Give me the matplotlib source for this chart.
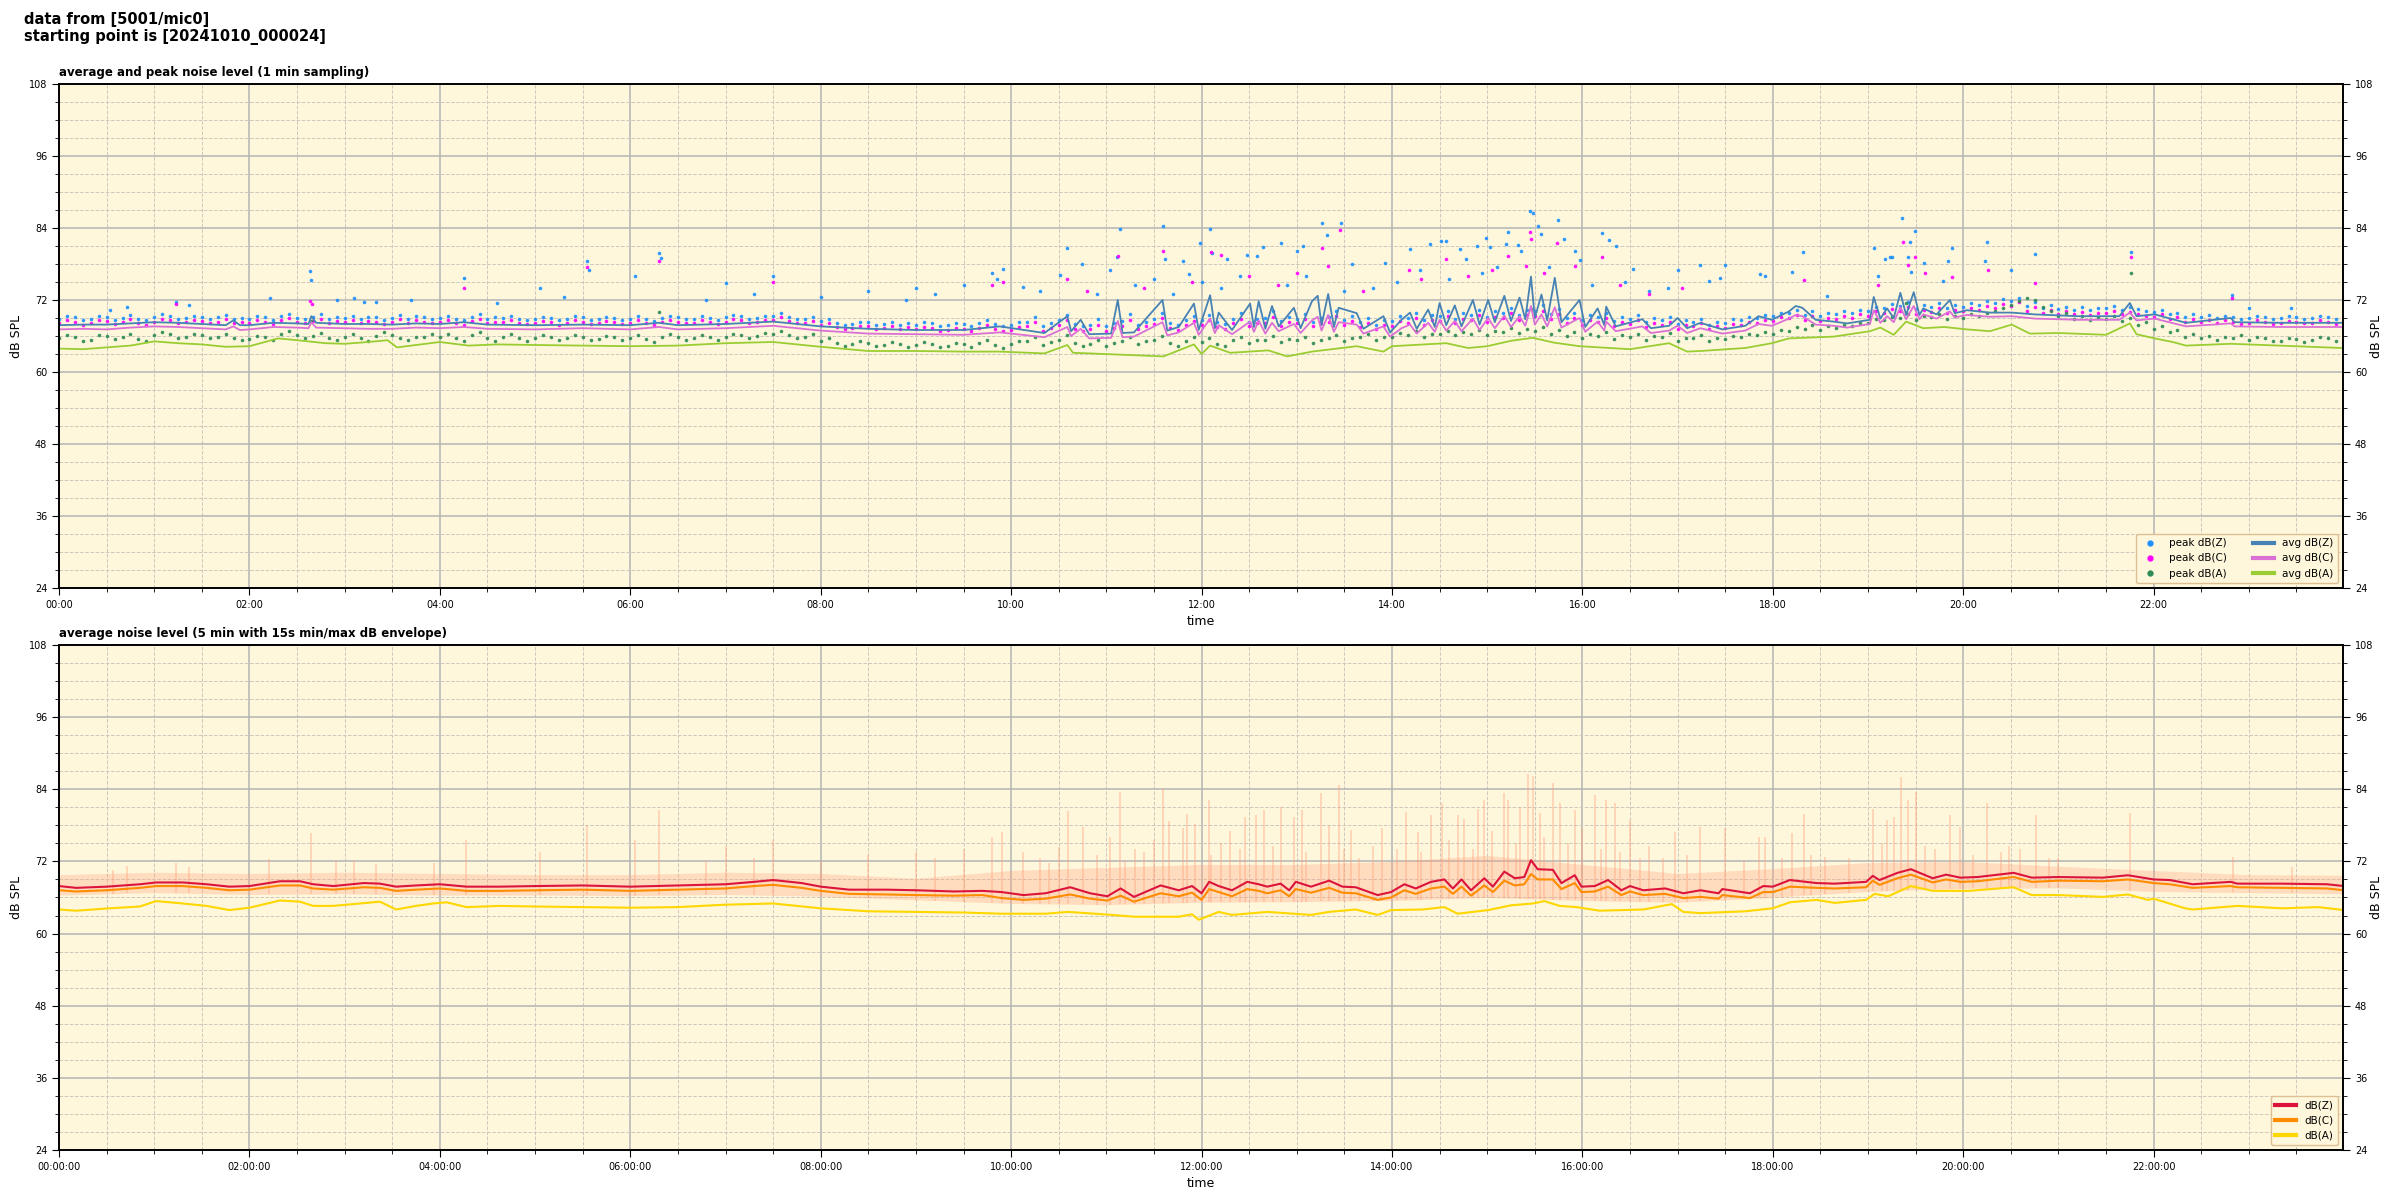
import numpy as np
import matplotlib
matplotlib.use("Agg")
import matplotlib.pyplot as plt
import matplotlib.dates as mdates
from matplotlib.ticker import MultipleLocator

# ---- data (hours since 00:00, dB SPL) ----

# top panel: 1 min averages, key points (hour, avg Z, avg C)
top_avg_zc = [
    (0.00, 67.8, 67.1), (0.25, 67.9, 67.2), (0.50, 67.9, 67.1), (0.75, 68.1, 67.4),
    (1.00, 68.3, 67.6), (1.25, 68.2, 67.5), (1.50, 68.0, 67.3), (1.75, 67.8, 67.1),
    (1.83, 68.6, 67.6), (1.90, 67.8, 67.0), (2.00, 67.8, 67.1), (2.25, 68.2, 67.5),
    (2.50, 68.1, 67.4), (2.62, 68.0, 67.3), (2.65, 69.3, 68.3), (2.70, 68.2, 67.4),
    (3.00, 68.0, 67.3), (3.25, 68.0, 67.2), (3.50, 67.9, 67.2), (3.75, 68.1, 67.4),
    (4.00, 68.0, 67.3), (4.25, 68.3, 67.5), (4.50, 67.9, 67.2), (5.00, 67.8, 67.1),
    (5.50, 67.9, 67.3), (6.00, 67.8, 67.1), (6.30, 68.2, 67.5), (6.50, 67.8, 67.1),
    (7.00, 68.0, 67.3), (7.50, 68.4, 67.7), (7.75, 68.0, 67.3), (8.00, 67.6, 66.9),
    (8.50, 67.2, 66.4), (9.00, 67.0, 66.3), (9.50, 67.0, 66.2), (9.88, 67.6, 66.6),
    (10.35, 66.5, 65.8), (10.59, 69.3, 67.5), (10.63, 66.8, 66.0), (10.73, 68.7, 67.2),
    (10.82, 66.3, 65.6), (11.05, 66.4, 65.7), (11.12, 72.0, 68.5), (11.17, 66.5, 65.8),
    (11.29, 66.6, 65.9), (11.59, 72.0, 68.3), (11.64, 66.9, 66.1), (11.76, 67.5, 66.6),
    (11.92, 71.4, 68.2), (11.97, 67.0, 66.2), (12.09, 72.8, 68.9), (12.14, 67.3, 66.5),
    (12.18, 69.9, 67.8), (12.32, 67.0, 66.3), (12.51, 71.4, 68.4), (12.55, 67.5, 66.7),
    (12.60, 71.8, 68.6), (12.67, 67.2, 66.4), (12.74, 71.0, 68.2), (12.81, 67.6, 66.8),
    (12.97, 70.7, 68.0), (13.04, 67.3, 66.5), (13.16, 71.8, 68.6), (13.22, 72.7, 69.2),
    (13.26, 67.8, 66.9), (13.33, 73.0, 69.5), (13.39, 67.5, 66.7), (13.44, 70.7, 68.3),
    (13.63, 69.8, 67.9), (13.70, 67.2, 66.4), (13.91, 69.3, 67.6), (13.98, 66.6, 65.9),
    (14.10, 68.7, 67.3), (14.19, 69.9, 67.9), (14.26, 67.2, 66.4), (14.38, 70.4, 68.2),
    (14.45, 67.5, 66.7), (14.50, 71.5, 68.7), (14.57, 67.8, 66.9), (14.66, 71.1, 68.5),
    (14.73, 67.6, 66.8), (14.85, 72.0, 68.9), (14.92, 67.9, 67.0), (15.01, 72.0, 69.0),
    (15.08, 68.3, 67.3), (15.18, 72.7, 69.4), (15.25, 68.5, 67.5), (15.34, 72.4, 69.3),
    (15.40, 68.8, 67.7), (15.46, 75.9, 71.0), (15.50, 69.0, 67.9), (15.57, 72.9, 69.6),
    (15.63, 68.6, 67.6), (15.71, 75.7, 70.8), (15.78, 68.3, 67.4), (15.97, 72.0, 69.0),
    (16.03, 67.5, 66.7), (16.16, 70.6, 68.4), (16.23, 67.8, 66.9), (16.25, 70.9, 68.4),
    (16.35, 67.6, 66.8), (16.63, 68.8, 67.6), (16.72, 67.3, 66.5), (16.91, 67.7, 66.9),
    (17.00, 69.0, 67.7), (17.10, 67.3, 66.5), (17.24, 68.2, 67.3), (17.47, 67.1, 66.4),
    (17.71, 67.7, 66.9), (17.85, 69.3, 68.0), (17.99, 68.7, 67.7), (18.17, 70.1, 68.9),
    (18.24, 71.0, 69.5), (18.31, 70.7, 69.3), (18.45, 68.7, 67.9), (18.64, 68.4, 67.7),
    (18.78, 68.1, 67.4), (19.02, 68.7, 68.0), (19.06, 72.5, 70.3), (19.13, 68.9, 68.2),
    (19.20, 70.6, 69.3), (19.27, 69.0, 68.3), (19.34, 73.2, 70.8), (19.40, 69.5, 68.8),
    (19.48, 73.3, 71.0), (19.54, 69.5, 68.8), (19.58, 70.6, 69.6), (19.72, 69.6, 68.9),
    (19.86, 72.0, 70.1), (19.91, 69.8, 69.1), (20.04, 70.3, 69.5), (20.28, 69.9, 69.2),
    (20.51, 69.9, 69.3), (20.75, 69.6, 68.9), (21.21, 69.3, 68.7), (21.64, 69.3, 68.7),
    (21.75, 71.5, 69.9), (21.82, 69.3, 68.6), (22.01, 69.6, 68.9), (22.34, 68.2, 67.6),
    (22.81, 69.0, 68.1), (22.85, 68.3, 67.6), (23.32, 68.2, 67.5), (23.98, 68.2, 67.5),
]

# top panel: avg dB(A) key points (hour, value)
top_avg_a = [
    (0.00, 63.9), (0.25, 63.8), (0.50, 64.1), (0.75, 64.4), (1.00, 65.1), (1.25, 64.8),
    (1.50, 64.6), (1.75, 64.2), (2.00, 64.3), (2.30, 65.6), (2.50, 65.3), (2.80, 64.8),
    (3.00, 64.7), (3.25, 65.0), (3.45, 65.3), (3.55, 64.1), (3.80, 64.6), (4.00, 65.0),
    (4.30, 64.4), (4.60, 64.6), (5.00, 64.5), (5.50, 64.4), (6.00, 64.3), (6.50, 64.4),
    (7.00, 64.8), (7.50, 65.0), (8.00, 64.2), (8.50, 63.5), (9.00, 63.5), (9.50, 63.4),
    (9.88, 63.4), (10.35, 63.1), (10.59, 64.5), (10.65, 63.2), (10.82, 63.1), (11.29, 62.8),
    (11.60, 62.6), (11.92, 64.6), (12.00, 63.0), (12.09, 64.4), (12.30, 63.2), (12.70, 63.6),
    (12.90, 62.6), (13.16, 63.4), (13.63, 64.3), (13.91, 63.4), (14.00, 64.3), (14.57, 64.8),
    (14.80, 64.0), (15.00, 64.3), (15.25, 65.2), (15.48, 65.7), (15.70, 64.9), (15.97, 64.3),
    (16.50, 63.8), (16.91, 64.8), (17.10, 63.4), (17.24, 63.5), (17.71, 64.0), (17.99, 64.8),
    (18.17, 65.6), (18.64, 65.9), (19.02, 66.8), (19.13, 67.4), (19.27, 66.2), (19.40, 68.4),
    (19.58, 67.3), (19.80, 67.5), (20.04, 67.1), (20.28, 66.8), (20.51, 67.9), (20.70, 66.4),
    (21.00, 66.5), (21.50, 66.2), (21.75, 68.1), (21.82, 66.3), (22.01, 65.6), (22.20, 65.0),
    (22.34, 64.4), (22.81, 64.7), (23.32, 64.4), (23.98, 64.0),
]

# top panel: peak levels, one reading per 5 minutes (one row per hour)
peak_z_rows = [
    [68.9, 69.3, 69.1, 68.6, 68.8, 69.4, 69.2, 68.7, 69.0, 69.5, 68.9, 68.6],
    [69.1, 69.6, 69.3, 68.9, 69.0, 69.4, 69.2, 68.8, 69.1, 69.5, 68.8, 69.0],
    [68.9, 69.3, 69.1, 68.7, 69.3, 69.7, 69.0, 68.8, 69.2, 69.6, 68.9, 69.2],
    [69.0, 69.4, 68.8, 69.2, 69.1, 68.7, 69.0, 69.5, 68.9, 69.3, 69.1, 68.8],
    [69.0, 69.4, 68.9, 68.6, 69.2, 69.6, 68.8, 69.1, 69.0, 69.4, 68.9, 68.7],
    [68.8, 69.2, 69.0, 68.6, 68.9, 69.3, 69.1, 68.7, 68.8, 69.2, 69.0, 68.7],
    [68.9, 69.3, 68.8, 68.5, 69.0, 69.4, 69.1, 68.8, 68.9, 69.3, 69.0, 68.7],
    [69.1, 69.5, 69.3, 68.9, 69.0, 69.4, 69.4, 69.8, 69.2, 68.9, 68.9, 69.2],
    [68.5, 68.9, 68.2, 67.9, 68.0, 68.4, 68.3, 67.8, 68.0, 68.4, 67.9, 68.2],
    [67.9, 68.3, 68.1, 67.7, 67.8, 68.2, 68.0, 67.6, 68.2, 68.6, 68.0, 67.7],
    [67.8, 68.3, 68.4, 69.2, 67.7, 68.1, 68.6, 69.5, 68.0, 67.6, 67.9, 68.8],
    [67.7, 68.2, 68.5, 69.6, 67.9, 68.4, 68.8, 69.9, 68.2, 67.8, 68.6, 69.4],
    [68.7, 69.5, 68.3, 68.0, 68.9, 69.8, 68.4, 68.9, 69.0, 70.1, 68.5, 69.2],
    [68.9, 69.7, 68.4, 69.0, 69.2, 70.2, 68.6, 69.3, 68.3, 69.0, 67.9, 68.6],
    [68.5, 69.4, 69.0, 69.9, 68.7, 69.5, 69.3, 70.2, 68.9, 69.8, 69.5, 70.4],
    [69.2, 70.1, 69.8, 70.7, 69.5, 70.4, 70.2, 71.1, 69.6, 70.5, 69.0, 69.8],
    [68.7, 69.5, 69.1, 69.8, 68.5, 69.2, 68.8, 69.5, 68.3, 69.0, 68.6, 69.2],
    [68.0, 68.6, 68.4, 68.9, 67.9, 68.4, 68.2, 68.8, 68.6, 69.2, 69.0, 69.5],
    [69.3, 69.9, 69.8, 70.3, 69.5, 70.1, 69.3, 69.8, 69.6, 70.2, 69.8, 70.4],
    [70.2, 70.9, 70.6, 71.3, 71.0, 71.7, 70.5, 71.1, 70.8, 71.5, 70.6, 71.2],
    [70.9, 71.5, 71.2, 71.8, 71.5, 72.2, 71.8, 72.4, 71.0, 71.6, 70.6, 71.1],
    [70.5, 70.9, 70.4, 70.8, 70.3, 70.7, 70.6, 71.0, 70.4, 70.8, 70.5, 70.1],
    [70.0, 70.4, 69.6, 69.9, 69.2, 69.6, 69.1, 69.5, 69.0, 69.4, 69.2, 68.8],
    [69.0, 69.4, 69.1, 68.8, 69.0, 69.3, 69.2, 68.9, 69.0, 69.4, 69.1, 68.8],
]
peak_c_rows = [
    [68.2, 68.6, 68.4, 67.9, 68.1, 68.7, 68.5, 68.0, 68.3, 68.8, 68.2, 67.9],
    [68.4, 68.9, 68.6, 68.2, 68.3, 68.7, 68.5, 68.1, 68.4, 68.8, 68.1, 68.3],
    [68.2, 68.6, 68.4, 68.0, 68.6, 69.0, 68.3, 68.1, 68.5, 68.9, 68.2, 68.5],
    [68.3, 68.7, 68.1, 68.5, 68.4, 68.0, 68.3, 68.8, 68.2, 68.6, 68.4, 68.1],
    [68.3, 68.7, 68.2, 67.9, 68.5, 68.9, 68.1, 68.4, 68.3, 68.7, 68.2, 68.0],
    [68.1, 68.5, 68.3, 67.9, 68.2, 68.6, 68.4, 68.0, 68.1, 68.5, 68.3, 68.0],
    [68.2, 68.6, 68.1, 67.8, 68.3, 68.7, 68.4, 68.1, 68.2, 68.6, 68.3, 68.0],
    [68.4, 68.8, 68.6, 68.2, 68.3, 68.7, 68.7, 69.1, 68.5, 68.2, 68.2, 68.5],
    [67.8, 68.2, 67.5, 67.2, 67.3, 67.7, 67.6, 67.1, 67.3, 67.7, 67.2, 67.5],
    [67.1, 67.5, 67.3, 66.9, 67.0, 67.4, 67.2, 66.8, 67.4, 67.8, 67.2, 66.9],
    [67.0, 67.5, 67.6, 68.3, 66.9, 67.3, 67.8, 68.6, 67.2, 66.8, 67.1, 67.9],
    [66.9, 67.4, 67.7, 68.7, 67.1, 67.6, 68.0, 69.0, 67.4, 67.0, 67.8, 68.5],
    [67.9, 68.6, 67.5, 67.2, 68.1, 68.9, 67.6, 68.1, 68.2, 69.1, 67.7, 68.4],
    [68.1, 68.8, 67.6, 68.2, 68.4, 69.3, 67.8, 68.5, 67.5, 68.2, 67.1, 67.8],
    [67.7, 68.5, 68.2, 69.0, 67.9, 68.6, 68.5, 69.3, 68.1, 68.9, 68.7, 69.5],
    [68.4, 69.2, 69.0, 69.8, 68.7, 69.5, 69.4, 70.2, 68.8, 69.6, 68.2, 69.0],
    [67.9, 68.7, 68.3, 69.0, 67.7, 68.4, 68.0, 68.7, 67.5, 68.2, 67.8, 68.4],
    [67.2, 67.8, 67.6, 68.1, 67.1, 67.6, 67.4, 68.0, 67.8, 68.4, 68.2, 68.7],
    [68.5, 69.1, 69.0, 69.5, 68.7, 69.3, 68.5, 69.0, 68.8, 69.4, 69.0, 69.6],
    [69.4, 70.1, 69.8, 70.5, 70.2, 70.9, 69.7, 70.3, 70.0, 70.7, 69.8, 70.4],
    [70.1, 70.7, 70.4, 71.0, 70.7, 71.4, 71.0, 71.6, 70.2, 70.8, 69.8, 70.3],
    [69.7, 70.1, 69.6, 70.0, 69.5, 69.9, 69.8, 70.2, 69.6, 70.0, 69.7, 69.3],
    [69.2, 69.6, 68.8, 69.1, 68.4, 68.8, 68.3, 68.7, 68.2, 68.6, 68.4, 68.0],
    [68.2, 68.6, 68.3, 68.0, 68.2, 68.5, 68.4, 68.1, 68.2, 68.6, 68.3, 68.0],
]
peak_a_rows = [
    [65.6, 66.2, 65.9, 65.2, 65.4, 66.1, 66.0, 65.5, 65.8, 66.3, 65.5, 65.1],
    [66.1, 66.6, 66.3, 65.7, 65.9, 66.4, 66.2, 65.6, 65.8, 66.3, 65.6, 65.3],
    [65.5, 66.0, 65.9, 65.4, 66.4, 66.9, 66.1, 65.6, 66.0, 66.5, 65.7, 65.3],
    [65.8, 66.3, 65.6, 65.1, 66.0, 66.6, 66.2, 65.6, 65.4, 65.9, 65.9, 66.4],
    [65.9, 66.4, 65.7, 65.2, 66.1, 66.6, 65.6, 65.1, 65.8, 66.3, 65.7, 65.2],
    [65.6, 66.1, 65.8, 65.3, 65.7, 66.2, 65.9, 65.4, 65.5, 66.0, 65.8, 65.3],
    [65.7, 66.2, 65.5, 65.0, 65.8, 66.3, 65.9, 65.4, 65.6, 66.1, 65.8, 65.3],
    [65.9, 66.4, 66.2, 65.7, 66.0, 66.5, 66.4, 66.9, 66.1, 65.6, 65.8, 66.3],
    [65.2, 65.7, 64.8, 64.3, 64.6, 65.1, 64.9, 64.4, 64.5, 65.0, 64.6, 64.1],
    [64.5, 65.0, 64.7, 64.2, 64.4, 64.9, 64.6, 64.1, 64.8, 65.3, 64.5, 64.0],
    [64.6, 65.1, 65.2, 65.9, 64.5, 65.0, 65.4, 66.1, 64.8, 64.3, 64.6, 65.3],
    [64.4, 64.9, 65.1, 65.8, 64.6, 65.1, 65.3, 66.0, 64.9, 64.4, 65.2, 65.8],
    [65.0, 65.6, 64.7, 64.3, 65.3, 65.9, 64.9, 65.4, 65.4, 66.0, 65.0, 65.5],
    [65.3, 65.9, 64.9, 65.4, 65.6, 66.2, 65.2, 65.7, 65.8, 66.4, 65.4, 65.9],
    [65.9, 66.5, 66.2, 66.8, 65.8, 66.4, 66.3, 66.9, 66.1, 66.7, 66.4, 67.0],
    [66.2, 66.8, 66.7, 67.3, 66.5, 67.1, 66.9, 67.5, 66.4, 67.0, 66.0, 66.6],
    [65.7, 66.3, 66.0, 66.6, 65.5, 66.1, 65.8, 66.4, 65.4, 66.0, 65.9, 66.5],
    [65.2, 65.7, 65.6, 66.1, 65.1, 65.6, 65.5, 66.0, 65.8, 66.3, 66.2, 66.7],
    [66.4, 67.0, 66.9, 67.5, 67.2, 67.8, 67.0, 67.6, 67.3, 67.9, 67.6, 68.2],
    [68.2, 68.8, 68.6, 69.2, 69.0, 69.6, 68.7, 69.3, 69.1, 69.7, 68.8, 69.4],
    [69.0, 69.6, 69.3, 69.9, 70.1, 70.7, 71.2, 71.9, 72.4, 72.0, 70.8, 70.2],
    [69.4, 69.9, 68.9, 69.4, 68.6, 69.1, 68.8, 69.3, 68.5, 69.0, 67.9, 68.4],
    [67.2, 67.6, 66.6, 67.0, 65.9, 66.3, 65.6, 66.0, 65.4, 65.8, 65.7, 66.1],
    [65.3, 65.8, 65.6, 65.1, 65.2, 65.7, 65.5, 65.0, 65.3, 65.8, 65.6, 65.1],
]

# isolated high peak readings (hour, dB)
peak_z_extra = [
    (0.53, 70.3), (0.71, 70.9), (1.23, 71.6), (1.37, 71.2), (2.22, 72.3), (2.64, 76.8),
    (2.65, 75.3), (2.92, 72.0), (3.10, 72.3), (3.20, 71.6), (3.33, 71.6), (3.70, 72.0),
    (4.25, 75.6), (4.60, 71.5), (5.05, 74.0), (5.30, 72.5), (5.55, 78.5), (5.57, 77.0),
    (6.05, 76.0), (6.30, 79.8), (6.32, 79.0), (6.80, 72.0), (7.00, 74.8), (7.30, 73.0),
    (7.50, 76.0), (8.00, 72.5), (8.50, 73.5), (8.90, 72.0), (9.00, 74.0), (9.20, 73.0),
    (9.50, 74.5), (9.80, 76.5), (9.85, 75.5), (9.91, 77.1), (10.12, 74.2), (10.30, 73.5),
    (10.51, 76.2), (10.59, 80.6), (10.74, 78.0), (10.90, 73.0), (11.04, 77.0), (11.11, 79.1),
    (11.14, 83.8), (11.30, 74.5), (11.50, 75.5), (11.60, 84.3), (11.62, 78.9), (11.70, 73.0),
    (11.80, 78.5), (11.87, 76.3), (11.98, 81.5), (12.00, 75.0), (12.09, 83.8), (12.11, 79.9),
    (12.20, 74.0), (12.27, 78.9), (12.40, 76.0), (12.48, 79.5), (12.58, 79.3), (12.65, 80.8),
    (12.83, 81.5), (12.90, 74.5), (13.00, 80.2), (13.07, 81.0), (13.10, 76.0), (13.26, 84.9),
    (13.32, 82.8), (13.46, 84.8), (13.50, 73.5), (13.58, 78.0), (13.80, 74.0), (13.93, 78.1),
    (14.05, 75.0), (14.19, 80.5), (14.29, 77.0), (14.40, 81.3), (14.52, 81.9), (14.57, 81.9),
    (14.60, 75.5), (14.71, 80.5), (14.78, 78.9), (14.89, 81.0), (14.95, 76.5), (14.99, 82.3),
    (15.03, 80.8), (15.10, 77.5), (15.20, 81.3), (15.22, 83.4), (15.32, 81.2), (15.36, 80.2),
    (15.45, 86.9), (15.48, 86.5), (15.53, 84.4), (15.57, 83.0), (15.65, 77.5), (15.74, 85.4),
    (15.81, 82.2), (15.92, 80.2), (15.97, 78.7), (16.10, 74.5), (16.21, 83.2), (16.28, 82.0),
    (16.35, 81.0), (16.45, 75.0), (16.53, 77.1), (16.70, 73.5), (16.90, 74.0), (17.00, 77.0),
    (17.24, 77.9), (17.33, 75.2), (17.45, 75.7), (17.50, 77.9), (17.87, 76.3), (17.92, 76.0),
    (18.20, 76.6), (18.32, 80.0), (18.57, 72.6), (19.06, 80.7), (19.11, 76.0), (19.18, 78.8),
    (19.23, 79.1), (19.25, 79.2), (19.36, 85.7), (19.42, 79.1), (19.44, 81.6), (19.45, 76.7),
    (19.49, 83.5), (19.59, 78.2), (19.79, 75.2), (19.84, 78.5), (19.88, 80.6), (20.23, 78.5),
    (20.25, 81.6), (20.50, 77.0), (20.75, 79.6), (21.76, 80.0), (22.82, 72.8), (23.00, 70.7),
    (23.44, 70.7),
]
peak_c_extra = [
    (1.23, 71.3), (2.64, 71.8), (2.66, 71.4), (4.25, 74.0), (5.55, 77.5), (6.30, 78.5),
    (7.50, 75.0), (9.80, 74.5), (9.91, 75.0), (10.59, 75.5), (10.80, 73.5), (11.12, 79.3),
    (11.40, 74.0), (11.59, 80.2), (11.90, 75.0), (12.10, 80.0), (12.20, 79.5), (12.50, 76.0),
    (12.80, 74.5), (13.00, 76.5), (13.26, 80.6), (13.33, 77.6), (13.45, 83.7), (13.70, 73.5),
    (14.18, 77.0), (14.30, 75.5), (14.57, 78.8), (14.80, 76.0), (15.05, 77.0), (15.22, 79.4),
    (15.41, 77.7), (15.45, 83.3), (15.46, 82.2), (15.60, 76.5), (15.73, 81.5), (15.92, 77.6),
    (16.21, 79.1), (16.40, 74.5), (16.70, 73.0), (17.05, 74.0), (18.33, 75.3), (19.10, 74.5),
    (19.37, 81.6), (19.42, 77.8), (19.49, 79.1), (19.60, 76.5), (19.88, 75.9), (20.26, 77.0),
    (20.75, 74.9), (21.76, 79.2), (22.82, 72.4),
]
peak_a_extra = [
    (2.65, 68.5), (6.30, 70.0), (15.46, 70.5), (19.40, 71.5), (21.76, 76.5),
]

# bottom panel: 5 min averages (hour, dB(Z), dB(C))
avg5_zc = [
    (0.00, 67.9, 67.2), (0.18, 67.6, 67.0), (0.50, 67.8, 67.2), (0.85, 68.2, 67.6),
    (1.02, 68.5, 67.9), (1.30, 68.5, 67.9), (1.55, 68.2, 67.6), (1.79, 67.8, 67.2),
    (2.00, 67.9, 67.3), (2.32, 68.7, 68.0), (2.53, 68.7, 68.0), (2.67, 68.2, 67.5),
    (2.88, 67.9, 67.3), (3.20, 68.4, 67.7), (3.37, 68.3, 67.6), (3.54, 67.8, 67.1),
    (3.75, 68.0, 67.3), (4.00, 68.2, 67.5), (4.28, 67.8, 67.1), (4.63, 67.8, 67.1),
    (5.00, 67.9, 67.2), (5.50, 68.0, 67.3), (6.00, 67.8, 67.1), (6.50, 68.0, 67.3),
    (7.00, 68.2, 67.5), (7.30, 68.6, 67.9), (7.50, 68.9, 68.1), (7.80, 68.4, 67.6),
    (8.00, 67.8, 67.1), (8.30, 67.3, 66.6), (8.70, 67.3, 66.5), (9.00, 67.2, 66.4),
    (9.40, 67.0, 66.3), (9.70, 67.1, 66.4), (9.90, 66.9, 65.9), (10.13, 66.4, 65.6),
    (10.36, 66.7, 65.8), (10.62, 67.7, 66.5), (10.83, 66.7, 65.8), (11.01, 66.2, 65.5),
    (11.15, 67.5, 66.3), (11.29, 66.1, 65.3), (11.57, 68.0, 66.7), (11.76, 67.2, 66.2),
    (11.90, 67.9, 66.8), (12.00, 66.7, 65.6), (12.08, 68.6, 67.4), (12.18, 67.9, 66.9),
    (12.32, 67.2, 66.2), (12.48, 68.6, 67.4), (12.60, 68.2, 67.1), (12.69, 67.8, 66.7),
    (12.83, 68.3, 67.2), (12.92, 67.2, 66.2), (12.99, 68.6, 67.4), (13.15, 67.8, 66.8),
    (13.34, 68.8, 67.6), (13.48, 67.8, 66.8), (13.62, 67.7, 66.7), (13.85, 66.4, 65.6),
    (13.99, 66.9, 66.0), (14.13, 68.2, 67.2), (14.25, 67.5, 66.6), (14.41, 68.6, 67.5),
    (14.55, 69.0, 67.8), (14.64, 67.5, 66.6), (14.73, 69.0, 67.8), (14.83, 67.2, 66.3),
    (14.97, 69.2, 68.0), (15.06, 67.8, 66.9), (15.18, 70.3, 68.8), (15.29, 69.2, 68.0),
    (15.39, 69.4, 68.2), (15.46, 72.2, 69.9), (15.53, 70.7, 69.0), (15.69, 70.6, 69.0),
    (15.78, 68.4, 67.4), (15.92, 69.7, 68.4), (15.99, 67.8, 66.9), (16.13, 67.9, 67.0),
    (16.27, 68.9, 67.8), (16.41, 67.2, 66.4), (16.50, 67.9, 67.0), (16.64, 67.2, 66.4),
    (16.87, 67.5, 66.6), (17.06, 66.7, 65.9), (17.24, 67.2, 66.1), (17.43, 66.7, 65.8),
    (17.47, 67.4, 66.4), (17.76, 66.7, 65.9), (17.90, 67.9, 66.9), (18.00, 67.8, 66.9),
    (18.18, 68.9, 67.8), (18.46, 68.4, 67.6), (18.65, 68.3, 67.5), (18.98, 68.6, 67.7),
    (19.05, 69.6, 68.8), (19.12, 68.9, 68.1), (19.31, 70.1, 69.2), (19.45, 70.7, 69.8),
    (19.68, 69.2, 68.5), (19.82, 69.8, 69.0), (19.97, 69.3, 68.6), (20.15, 69.4, 68.7),
    (20.53, 70.1, 69.4), (20.72, 69.3, 68.6), (21.00, 69.4, 68.8), (21.47, 69.3, 68.7),
    (21.73, 69.7, 69.0), (22.00, 69.0, 68.4), (22.17, 68.9, 68.2), (22.41, 68.2, 67.6),
    (22.81, 68.6, 67.9), (22.88, 68.3, 67.7), (23.35, 68.3, 67.6), (23.82, 68.2, 67.5),
    (24.00, 67.9, 67.2),
]
avg5_a = [
    (0.00, 64.0), (0.18, 63.8), (0.53, 64.2), (0.85, 64.5), (1.02, 65.4), (1.30, 65.0),
    (1.55, 64.6), (1.79, 63.9), (2.00, 64.3), (2.32, 65.5), (2.53, 65.3), (2.67, 64.6),
    (2.88, 64.6), (3.37, 65.3), (3.54, 64.0), (3.75, 64.6), (3.93, 65.0), (4.07, 65.2),
    (4.28, 64.4), (4.63, 64.6), (5.00, 64.5), (5.50, 64.4), (6.00, 64.3), (6.50, 64.4),
    (7.00, 64.8), (7.50, 65.0), (8.00, 64.2), (8.50, 63.7), (9.00, 63.6), (9.50, 63.5),
    (9.90, 63.3), (10.36, 63.3), (10.60, 63.6), (11.06, 63.1), (11.29, 62.8), (11.76, 62.8),
    (11.90, 63.2), (11.97, 62.3), (12.18, 63.6), (12.32, 63.1), (12.69, 63.6), (13.15, 63.1),
    (13.34, 63.6), (13.62, 64.0), (13.85, 63.1), (13.99, 63.9), (14.32, 64.0), (14.55, 64.4),
    (14.69, 63.3), (15.01, 63.9), (15.25, 64.7), (15.48, 65.0), (15.60, 65.4), (15.76, 64.6),
    (15.94, 64.4), (16.18, 63.8), (16.64, 64.0), (16.94, 64.9), (17.06, 63.6), (17.24, 63.4),
    (17.71, 63.7), (18.00, 64.2), (18.18, 65.2), (18.46, 65.6), (18.65, 65.1), (18.98, 65.6),
    (19.07, 66.6), (19.21, 66.2), (19.45, 67.9), (19.68, 67.1), (20.06, 67.1), (20.53, 67.7),
    (20.72, 66.4), (21.00, 66.4), (21.47, 66.1), (21.73, 66.5), (21.94, 65.6), (22.00, 65.8),
    (22.33, 64.2), (22.41, 64.0), (22.88, 64.6), (23.35, 64.2), (23.73, 64.4), (24.00, 63.9),
]

# bottom panel: 15 s min/max envelope, hourly band plus the tall spikes
env_hours = list(range(25))
env_lo = [66.4, 66.8, 66.5, 66.6, 66.4, 66.4, 66.3, 66.5, 66.2, 65.6, 65.0, 64.8, 65.2,
          65.3, 65.5, 66.0, 65.5, 65.2, 66.0, 67.0, 67.5, 67.6, 67.0, 66.8, 66.6]
env_hi = [69.8, 70.2, 70.0, 70.2, 70.0, 69.8, 69.8, 70.2, 70.0, 69.2, 70.5, 71.0, 71.5,
          71.5, 72.0, 73.0, 71.5, 70.0, 70.8, 71.8, 72.0, 71.2, 70.5, 69.8, 69.7]
env_spikes = [
    (0.57, 70.6), (0.71, 71.2), (1.23, 71.7), (1.37, 71.0), (2.21, 72.4), (2.65, 76.7),
    (2.91, 72.0), (3.10, 72.3), (3.33, 71.5), (3.94, 71.8), (4.27, 75.6), (5.05, 73.5),
    (5.55, 78.0), (6.05, 75.5), (6.30, 80.5), (6.80, 72.0), (7.00, 74.5), (7.30, 72.5),
    (7.50, 75.5), (8.00, 72.0), (8.50, 73.0), (9.00, 73.5), (9.20, 72.5), (9.50, 74.0),
    (9.80, 76.0), (9.90, 76.9), (10.12, 73.5), (10.30, 72.5), (10.40, 71.8), (10.50, 74.4),
    (10.60, 80.4), (10.75, 77.8), (10.90, 73.0), (11.04, 76.0), (11.14, 83.6), (11.20, 72.0),
    (11.30, 74.0), (11.40, 73.5), (11.50, 75.5), (11.60, 84.2), (11.66, 78.7), (11.80, 77.6),
    (11.85, 79.9), (11.93, 78.3), (12.08, 82.2), (12.10, 73.0), (12.20, 75.0), (12.30, 77.0),
    (12.40, 74.0), (12.46, 79.4), (12.57, 79.7), (12.66, 80.5), (12.75, 74.5), (12.83, 81.1),
    (12.97, 79.4), (13.06, 80.5), (13.10, 73.5), (13.25, 83.3), (13.34, 78.0), (13.44, 84.7),
    (13.50, 74.0), (13.57, 77.2), (13.65, 72.5), (13.80, 74.5), (13.90, 77.5), (14.05, 74.0),
    (14.15, 80.3), (14.27, 76.9), (14.30, 73.5), (14.41, 79.7), (14.53, 81.7), (14.60, 75.5),
    (14.69, 79.7), (14.76, 79.1), (14.85, 74.0), (14.90, 80.8), (14.97, 82.2), (15.05, 77.0),
    (15.18, 83.3), (15.22, 82.2), (15.30, 75.0), (15.34, 81.1), (15.43, 86.5), (15.48, 86.2),
    (15.55, 80.0), (15.60, 76.0), (15.69, 85.0), (15.76, 81.7), (15.85, 75.0), (15.92, 80.6),
    (16.00, 77.5), (16.13, 83.1), (16.20, 74.0), (16.25, 82.2), (16.34, 81.7), (16.40, 73.5),
    (16.50, 78.9), (16.60, 72.5), (16.70, 74.5), (16.85, 72.5), (16.97, 76.9), (17.10, 73.0),
    (17.24, 77.8), (17.50, 77.5), (17.70, 72.0), (17.85, 76.1), (17.92, 76.1), (18.10, 72.5),
    (18.20, 76.7), (18.33, 79.9), (18.40, 73.0), (18.55, 72.8), (18.80, 72.5), (19.05, 80.8),
    (19.15, 75.0), (19.20, 78.9), (19.27, 79.4), (19.35, 86.0), (19.42, 82.2), (19.50, 83.6),
    (19.60, 74.5), (19.70, 74.0), (19.86, 79.7), (19.97, 77.8), (20.10, 73.0), (20.25, 81.7),
    (20.40, 73.5), (20.48, 74.6), (20.60, 74.0), (20.76, 79.7), (20.90, 72.5), (21.00, 72.5),
    (21.75, 80.0), (22.83, 72.8), (23.45, 71.0),
]

T0 = np.datetime64("2024-10-10T00:00:00")


def to_time(hours):
    return T0 + np.round(np.asarray(hours, dtype=float) * 3600).astype("timedelta64[s]")


def unpack(rows):
    return [np.array(col) for col in zip(*rows)]


BG = "#fff7dc"


def style_axes(ax, fmt):
    ax.set_facecolor(BG)
    ax.set_xlim(to_time(0), to_time(23.99))
    ax.set_ylim(24, 108)
    ax.yaxis.set_major_locator(MultipleLocator(12))
    ax.yaxis.set_minor_locator(MultipleLocator(3))
    ax.xaxis.set_major_locator(mdates.HourLocator(byhour=range(0, 24, 2)))
    ax.xaxis.set_minor_locator(mdates.MinuteLocator(byminute=[0, 30]))
    ax.xaxis.set_major_formatter(mdates.DateFormatter(fmt))
    ax.xaxis.get_offset_text().set_visible(False)
    ax.grid(which="major", color="#b4b4b4", lw=1.1)
    ax.grid(which="minor", color="#cdc8bc", ls="--", lw=0.7)
    ax.set_axisbelow(True)
    for s in ax.spines.values():
        s.set_linewidth(1.4)
    ax.tick_params(which="both", direction="out", right=True, labelright=True)
    ax.tick_params(which="major", labelsize=7, length=5)
    ax.tick_params(which="minor", length=3)
    ax.set_ylabel("dB SPL", fontsize=9)
    ax.set_xlabel("time", fontsize=9)
    ax.text(1.0144, 0.5, "dB SPL", fontsize=9, rotation=90, transform=ax.transAxes,
            ha="center", va="center")


fig = plt.figure(figsize=(24, 12), dpi=100)
fig.text(0.0098, 0.99, "data from [5001/mic0]\nstarting point is [20241010_000024]",
         fontsize=10.5, fontweight="bold", va="top", ha="left")

ax1 = fig.add_axes([0.0246, 0.51, 0.9517, 0.42])
ax2 = fig.add_axes([0.0246, 0.0417, 0.9517, 0.4208])

# ---- top panel ----
grid_t = to_time(np.arange(288) / 12.0)
pz_t, pz_v = unpack(peak_z_extra)
pc_t, pc_v = unpack(peak_c_extra)
pa_t, pa_v = unpack(peak_a_extra)

ax1.plot(np.concatenate([grid_t, to_time(pz_t)]), np.concatenate([np.ravel(peak_z_rows), pz_v]),
         ls="none", marker=".", ms=3.2, color="dodgerblue", alpha=0.85, label="peak dB(Z)")
ax1.plot(np.concatenate([grid_t, to_time(pc_t)]), np.concatenate([np.ravel(peak_c_rows), pc_v]),
         ls="none", marker=".", ms=3.2, color="magenta", alpha=0.85, label="peak dB(C)")
ax1.plot(np.concatenate([grid_t, to_time(pa_t)]), np.concatenate([np.ravel(peak_a_rows), pa_v]),
         ls="none", marker=".", ms=3.2, color="seagreen", alpha=0.85, label="peak dB(A)")

t_zc, v_z, v_c = unpack(top_avg_zc)
t_a, v_a = unpack(top_avg_a)
ax1.plot(to_time(t_zc), v_z, color="steelblue", lw=1.3, label="avg dB(Z)")
ax1.plot(to_time(t_zc), v_c, color="orchid", lw=1.3, label="avg dB(C)")
ax1.plot(to_time(t_a), v_a, color="yellowgreen", lw=1.3, label="avg dB(A)")

style_axes(ax1, "%H:%M")
ax1.set_title("average and peak noise level (1 min sampling)", loc="left",
              fontsize=8.5, fontweight="bold", pad=6)
leg1 = ax1.legend(loc="lower right", ncol=2, fontsize=7.5, markerscale=2.2,
                  facecolor=BG, edgecolor="#dcc094", framealpha=1, columnspacing=2.5)
for ln in leg1.get_lines():
    ln.set_linewidth(3)
    ln.set_alpha(1)

# ---- bottom panel ----
es_t, es_v = unpack(env_spikes)
ax2.fill_between(to_time(env_hours), env_lo, env_hi, color="lightsalmon", alpha=0.3, lw=0)
ax2.vlines(to_time(es_t), np.interp(es_t, env_hours, env_lo), es_v,
           color="lightsalmon", alpha=0.45, lw=1.2)

b_t, b_z, b_c = unpack(avg5_zc)
ba_t, ba_v = unpack(avg5_a)
ax2.plot(to_time(b_t), b_z, color="crimson", lw=1.5, label="dB(Z)")
ax2.plot(to_time(b_t), b_c, color="darkorange", lw=1.5, label="dB(C)")
ax2.plot(to_time(ba_t), ba_v, color="gold", lw=1.5, label="dB(A)")

style_axes(ax2, "%H:%M:%S")
ax2.set_title("average noise level (5 min with 15s min/max dB envelope)", loc="left",
              fontsize=8.5, fontweight="bold", pad=6)
leg2 = ax2.legend(loc="lower right", fontsize=7.5, facecolor=BG, edgecolor="#dcc094",
                  framealpha=1)
for ln in leg2.get_lines():
    ln.set_linewidth(3)

fig.savefig("out.png", dpi=100)
